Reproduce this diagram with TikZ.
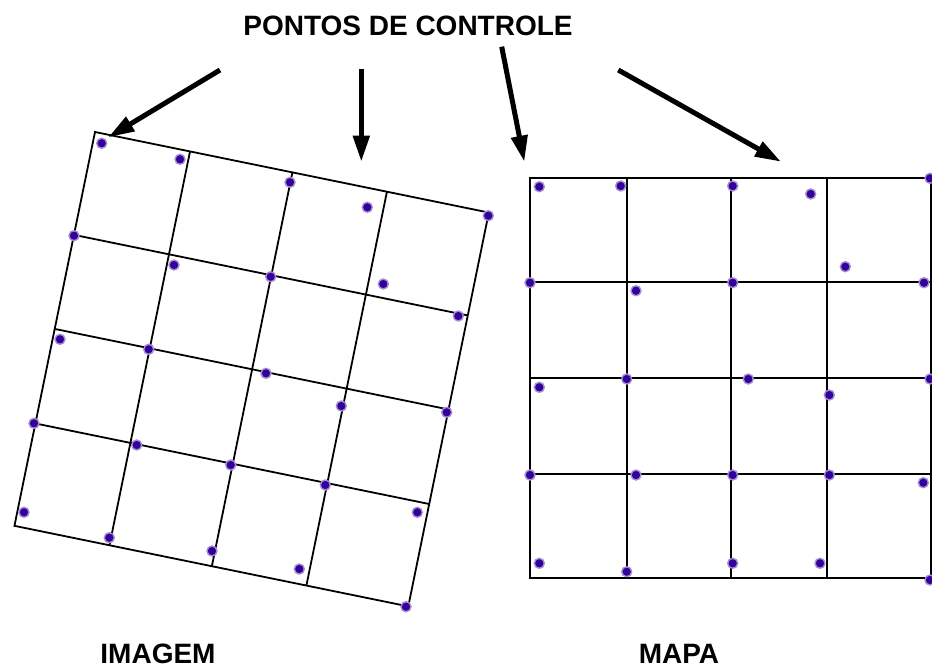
\documentclass[tikz,border=0pt]{standalone}
\usepackage{fontspec}
\setmainfont{Liberation Sans}
\usetikzlibrary{arrows.meta,positioning}
\tikzstyle{l1}=[line width=1.8]
\tikzstyle{seta}=[line width=5, -{Triangle[length=26pt,width=16pt]}]
\tikzstyle{ponto}=[circle, fill=mdot, draw=mdot!45, line width=1.4, inner sep=0pt, minimum size=10pt]
\tikzstyle{rotulo}=[font=\fontsize{28}{34}\selectfont\bfseries, inner sep=0pt, anchor=base]
\usepackage{xcolor}
\definecolor{mdot}{HTML}{33009A}

\begin{document}
\begin{tikzpicture}[x=1pt, y=-1pt]
    \useasboundingbox (0,0) rectangle (932,669);
    \clip (0,0) rectangle (932,669);

    % imagem (rotated grid)
    \begin{scope}[shift={(95,132)}, rotate=-11.56]
        \draw[l1] (0,0) rectangle (402,402);
        \foreach \u in {97,201.5,298} \draw[l1] (\u,0) -- (\u,402);
        \foreach \v in {105,201,297.5} \draw[l1] (0,\v) -- (402,\v);
    \end{scope}

    % mapa
    \draw[l1] (530,177.7) rectangle (931,578.3);
    \foreach \u in {626.7,731,827.3} \draw[l1] (\u,177.7) -- (\u,578.3);
    \foreach \v in {282.3,378.3,474.3} \draw[l1] (530,\v) -- (931,\v);

    \foreach \x/\y [count=\i] in {101.7/143.3, 180/159.3, 290/182.3, 367.3/207.3, 488.3/215.7,
        74/235.7, 174/265, 270.7/276.7, 383.3/284, 458.3/316,
        60/339.3, 148.7/349.3, 266/373.3, 341.3/406, 446.7/412.3,
        34/423.3, 136.7/445, 230.7/465, 325.3/485, 417.3/512.3,
        24/512.3, 109.3/537.7, 212/551, 299.3/569, 406/606.7}
        \node[ponto] (a\i) at (\x,\y) {};

    \foreach \x/\y [count=\i] in {539.3/186.7, 620.7/186, 732.7/186, 810.7/194, 930/178.3,
        845.3/266.7, 530/282.7, 636/290.7, 732.7/282.7, 924/282.7,
        539.3/387.3, 626.7/379, 748.3/379, 829.3/395, 930/379,
        530/475, 636/475, 732.7/475, 829.3/475, 923.3/482.7,
        539.3/563.3, 626.7/571.7, 732.7/563.3, 820/563.3, 930/580}
        \node[ponto] (b\i) at (\x,\y) {};

    \node[rotulo] (titulo) at (408,36) {PONTOS DE CONTROLE};
    \node[rotulo] (imagem) at (158,663) {IMAGEM};
    \node[rotulo] (mapa) at (679,663) {MAPA};

    \coordinate (s1) at (220,70);    \coordinate (t1) at (108.3,137.3);
    \coordinate (s2) at (361.3,69.3); \coordinate (t2) at (361.3,161.7);
    \coordinate (s3) at (501.7,46.7); \coordinate (t3) at (524.3,161.7);
    \coordinate (s4) at (618.3,70);   \coordinate (t4) at (781,161.7);

    \draw[seta] (s1) -- (t1);
    \draw[seta] (s2) -- (t2);
    \draw[seta] (s3) -- (t3);
    \draw[seta] (s4) -- (t4);
\end{tikzpicture}
\end{document}
